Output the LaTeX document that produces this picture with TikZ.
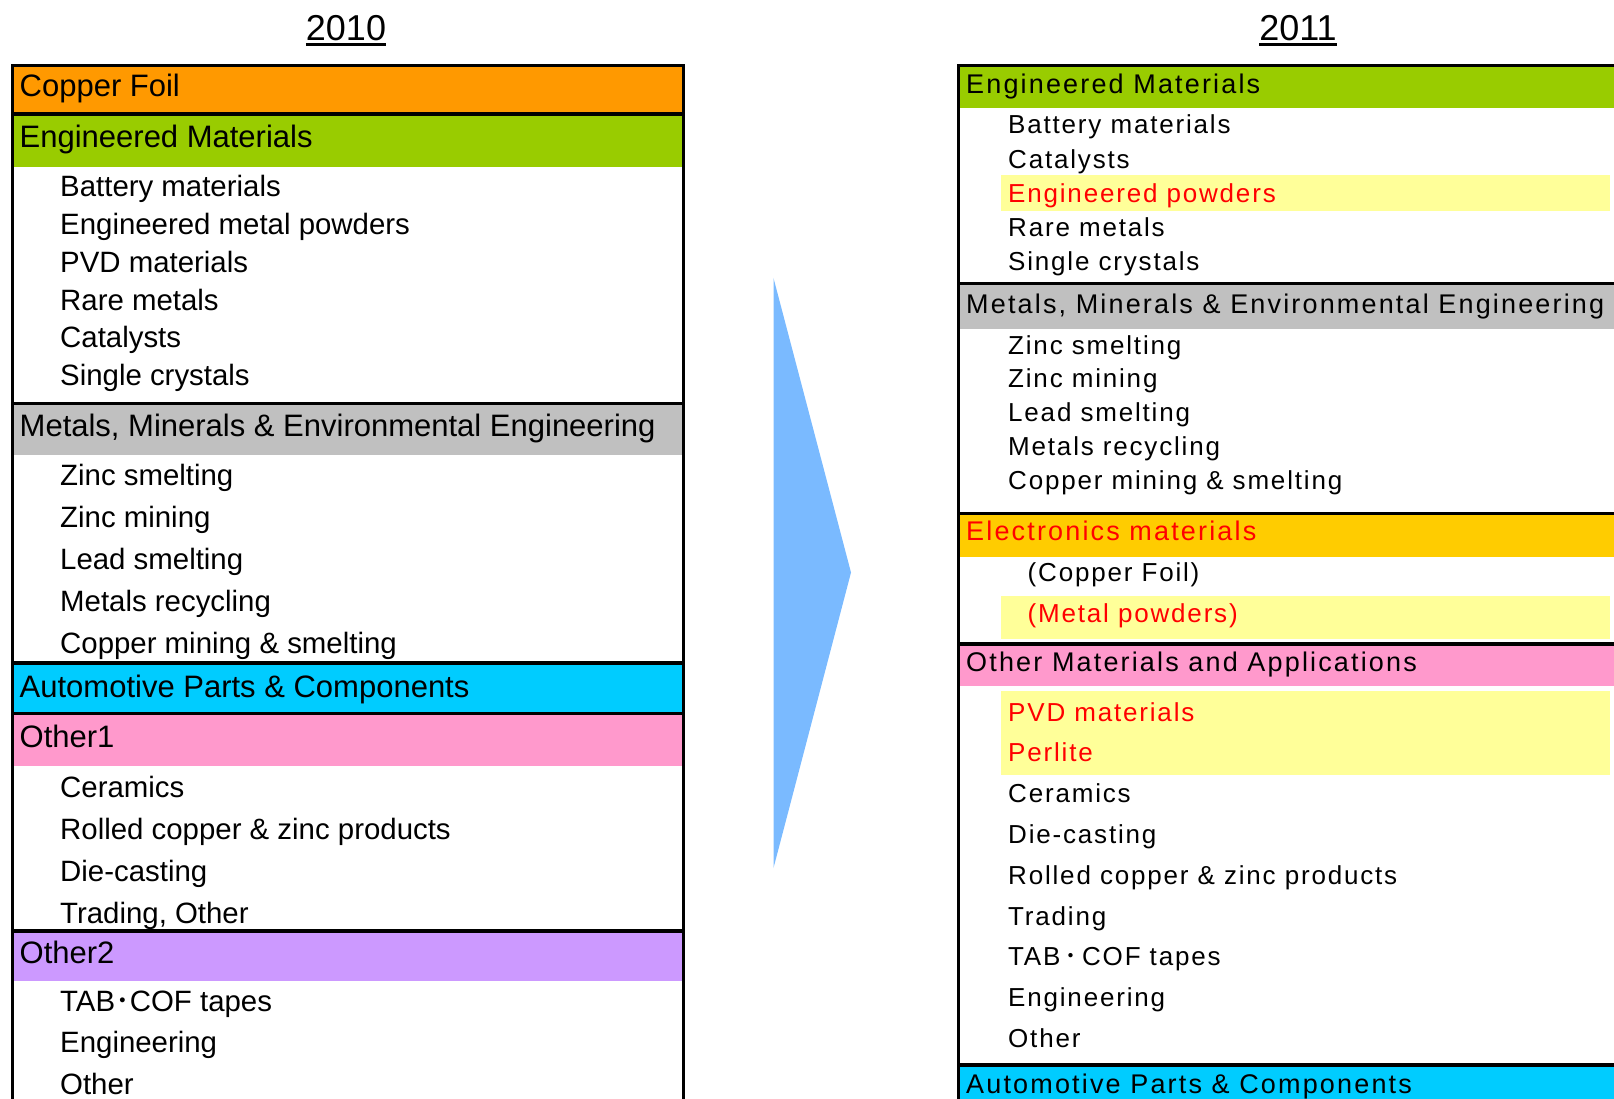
\documentclass[tikz,border=0pt]{standalone}
\usepackage{fontspec}
\setmainfont{Liberation Sans}
\newfontfamily\cjk{Noto Sans CJK JP}
\newfontfamily\spacedhead[LetterSpace=8]{Liberation Sans}
\newfontfamily\spaceditem[LetterSpace=7]{Liberation Sans}
\usetikzlibrary{positioning}

\definecolor{foil}{HTML}{FF9900}
\definecolor{engmat}{HTML}{99CC00}
\definecolor{metals}{HTML}{C0C0C0}
\definecolor{autoparts}{HTML}{00CCFF}
\definecolor{otherone}{HTML}{FF99CC}
\definecolor{othertwo}{HTML}{CC99FF}
\definecolor{elec}{HTML}{FFCC00}
\definecolor{hilite}{HTML}{FFFF99}
\definecolor{arrowblue}{HTML}{7ABAFF}
\definecolor{newred}{HTML}{FF0000}

\tikzset{every node/.append style={inner sep=0pt, anchor=base west}}
\tikzset{
  year/.style={anchor=base, font=\fontsize{36}{40}\selectfont},
  head/.style={font=\fontsize{31}{36}\selectfont},
  item/.style={font=\fontsize{29.4}{34}\selectfont},
  rhead/.style={font=\spacedhead\fontsize{27}{32}\selectfont},
  ritem/.style={font=\spaceditem\fontsize{26}{30}\selectfont},
  sepline/.style={line width=3.5pt},
  boxline/.style={line width=3pt},
}

\begin{document}
\begin{tikzpicture}[x=1pt,y=-1pt]
  \clip (0,0) rectangle (1614,1099);

  % years
  \node[year] (y2010) at (346,40.7) {2010};
  \node[year] (y2011) at (1298,40.7) {2011};
  \foreach \n in {y2010,y2011}
    \draw[line width=2.5pt] ([yshift=-3.6pt]\n.base west) -- ([yshift=-3.6pt]\n.base east);

  % 2010 segments
  \fill[foil]      (12,66)    rectangle (683,114);
  \fill[engmat]    (12,114)   rectangle (683,166.7);
  \fill[metals]    (12,403.3) rectangle (683,455);
  \fill[autoparts] (12,663)   rectangle (683,713.3);
  \fill[otherone]  (12,713.3) rectangle (683,766);
  \fill[othertwo]  (12,931)   rectangle (683,980.7);
  \foreach \y in {114,403.3,663,713.3,931}
    \draw[sepline] (12,\y) -- (683,\y);
  \draw[boxline] (12,1110) -- (12,66) -- (683,66) -- (683,1110);

  % 2011 segments
  \fill[engmat]    (958,66)    rectangle (1620,108.5);
  \fill[hilite]    (1001,175)  rectangle (1610,210.7);
  \fill[metals]    (958,283.5) rectangle (1620,328.5);
  \fill[elec]      (958,513.3) rectangle (1620,556.7);
  \fill[hilite]    (1001,596)  rectangle (1610,639);
  \fill[otherone]  (958,644)   rectangle (1620,685.7);
  \fill[hilite]    (1001,691)  rectangle (1610,775);
  \fill[autoparts] (958,1065)  rectangle (1620,1110);
  \foreach \y in {283.5,513.3,644,1065}
    \draw[sepline] (958,\y) -- (1620,\y);
  \draw[boxline] (958,1110) -- (958,66) -- (1620,66);

  % big arrow
  \fill[arrowblue] (773.5,278) -- (851,572.5) -- (773.5,868) -- cycle;

  % 2010 texts
  \node[head] (foil10) at (19.5,97) {Copper Foil};
  \node[head] (em10) at (19.5,147.5) {Engineered Materials};
  \foreach \t [count=\i] in {Battery materials, Engineered metal powders, PVD materials,
                             Rare metals, Catalysts, Single crystals}
    \node[item] (em10-\i) at (60,{197+37.7*(\i-1)}) {\t};
  \node[head] (mm10) at (19.5,436.5) {Metals, Minerals \& Environmental Engineering};
  \foreach \t [count=\i] in {Zinc smelting, Zinc mining, Lead smelting, Metals recycling,
                             Copper mining \& smelting}
    \node[item] (mm10-\i) at (60,{485+42*(\i-1)}) {\t};
  \node[head] (ap10) at (19.5,697) {Automotive Parts \& Components};
  \node[head] (oa10) at (19.5,747) {Other1};
  \foreach \t [count=\i] in {Ceramics, Rolled copper \& zinc products, Die-casting, {Trading, Other}}
    \node[item] (oa10-\i) at (60,{797+42*(\i-1)}) {\t};
  \node[head] (ob10) at (19.5,963.3) {Other2};
  \foreach \t [count=\i] in {TAB{\cjk ･}COF tapes, Engineering, Other}
    \node[item] (ob10-\i) at (60,{1011+41.5*(\i-1)}) {\t};

  % 2011 texts
  \node[rhead] (em11) at (966,93.3) {Engineered Materials};
  \foreach \t/\c [count=\i] in {Battery materials/black, Catalysts/black,
                                Engineered powders/newred, Rare metals/black, Single crystals/black}
    \node[ritem, text=\c] (em11-\i) at (1008,{134+34.2*(\i-1)}) {\t};
  \node[rhead] (mm11) at (966,313.3) {Metals, Minerals \& Environmental Engineering};
  \foreach \t [count=\i] in {Zinc smelting, Zinc mining, Lead smelting, Metals recycling,
                             Copper mining \& smelting}
    \node[ritem] (mm11-\i) at (1008,{354+33.8*(\i-1)}) {\t};
  \node[rhead, text=newred] (el11) at (966,540) {Electronics materials};
  \node[ritem] (el11-1) at (1027.5,581.7) {(Copper Foil)};
  \node[ritem, text=newred] (el11-2) at (1027.5,622.7) {(Metal powders)};
  \node[rhead] (oa11) at (966,671.7) {Other Materials and Applications};
  \foreach \t/\c [count=\i] in {PVD materials/newred, Perlite/newred, Ceramics/black,
                                Die-casting/black, Rolled copper \& zinc products/black, Trading/black,
                                TAB\,{\cjk ･}\,COF tapes/black, Engineering/black, Other/black}
    \node[ritem, text=\c] (oa11-\i) at (1008,{721+40.8*(\i-1)}) {\t};
  \node[rhead] (ap11) at (966,1093.3) {Automotive Parts \& Components};
\end{tikzpicture}
\end{document}
